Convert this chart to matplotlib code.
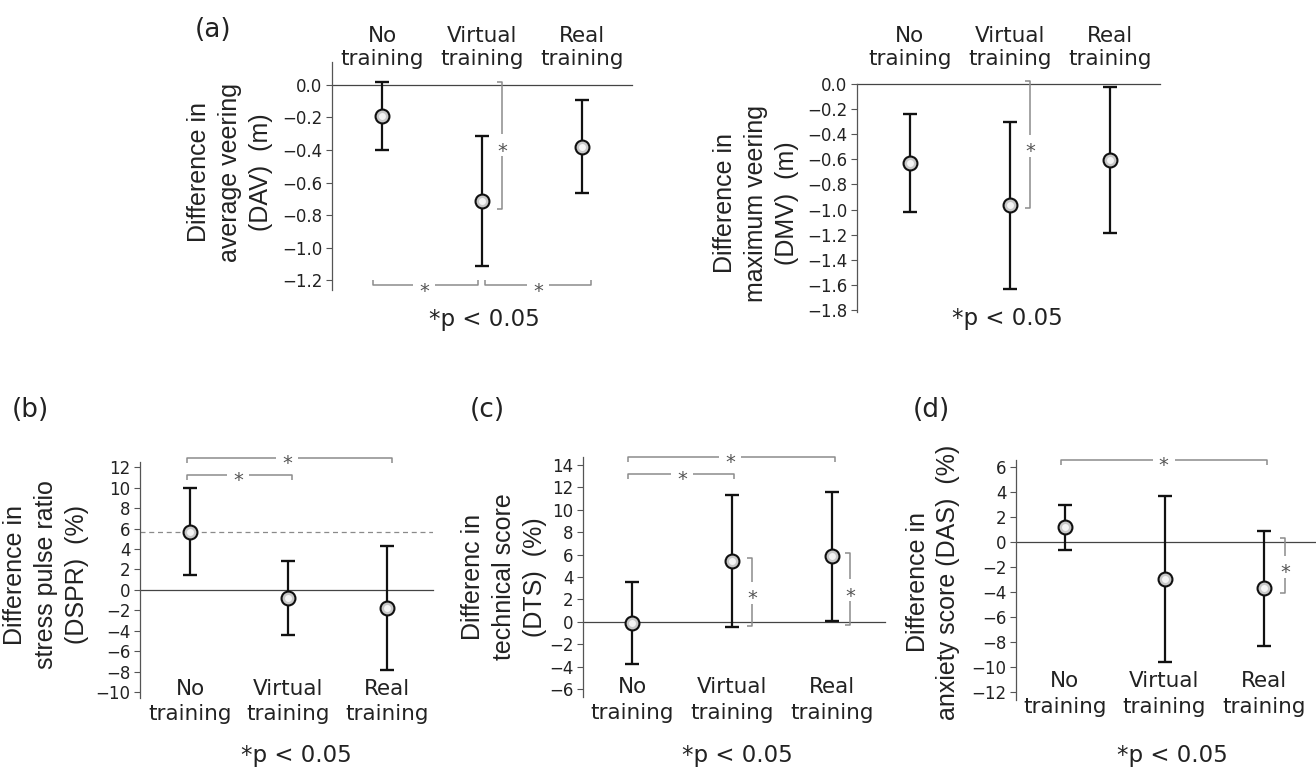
import matplotlib
matplotlib.use('Agg')
import matplotlib.pyplot as plt
import matplotlib.transforms as mtransforms
from matplotlib.ticker import FuncFormatter
import numpy as np

groups = ['No training', 'Virtual training', 'Real training']

# (a) veering
dav_mean = [-0.19, -0.715, -0.38]
dav_err = [0.21, 0.40, 0.285]
dmv_mean = [-0.625, -0.965, -0.605]
dmv_err = [0.39, 0.665, 0.585]
# (b) stress pulse ratio
dspr_mean = [5.7, -0.8, -1.8]
dspr_err = [4.25, 3.6, 6.05]
# (c) technical score
dts_mean = [-0.1, 5.45, 5.85]
dts_err = [3.67, 5.87, 5.72]
# (d) anxiety score
das_mean = [1.2, -2.95, -3.7]
das_err = [1.8, 6.63, 4.6]

# significance brackets: horizontal (x1, x2, y, x_star), vertical (x, y1, y2, y_star)
dav_sig_h = [(-0.09, 0.96, -1.23, 0.42), (1.03, 2.09, -1.23, 1.56)]
dav_sig_v = [(1.2, 0.02, -0.76, -0.37)]
dmv_sig_v = [(1.2, 0.02, -0.99, -0.49)]
dspr_sig_h = [(-0.03, 2.05, 12.9, 0.99), (-0.03, 1.04, 11.25, 0.49)]
dts_sig_h = [(-0.04, 2.03, 14.7, 0.98), (-0.04, 1.02, 13.2, 0.5)]
dts_sig_v = [(1.2, 5.7, -0.4, 2.6), (2.18, 6.1, -0.3, 2.8)]
das_sig_h = [(-0.04, 2.03, 6.56, 0.99)]
das_sig_v = [(2.21, 0.3, -4.1, -2.0)]

W, H = 1316, 767
fig = plt.figure(figsize=(W / 100, H / 100), dpi=100)
TXT = '#222222'


def add_ax(l, t, r, b):
    return fig.add_axes([l / W, 1 - b / H, (r - l) / W, (b - t) / H])


def fmt1(v, p):
    if abs(v) < 1e-9:
        return '0.0'
    return f'{v:.1f}'.replace('-', '\u2212')


def fmt0(v, p):
    if abs(v) < 1e-9:
        return '0'
    return f'{v:.0f}'.replace('-', '\u2212')


def style(ax, xlim, ylim, yticks, fmt):
    ax.set_xlim(xlim)
    ax.set_ylim(ylim)
    for s in ['top', 'right', 'bottom']:
        ax.spines[s].set_visible(False)
    ax.spines['left'].set_color('#555555')
    ax.spines['left'].set_linewidth(0.9)
    ax.set_xticks([])
    ax.set_yticks(yticks)
    ax.yaxis.set_major_formatter(FuncFormatter(fmt))
    ax.tick_params(axis='y', length=4, width=0.8, color='#555555',
                   labelsize=12, pad=3, labelcolor=TXT)
    ax.patch.set_visible(False)


def draw_points(ax, means, errs):
    x = np.arange(len(means))
    ax.axhline(0, color='#444444', lw=0.9, zorder=1, clip_on=False)
    ax.errorbar(x, means, yerr=errs, fmt='none', ecolor='#111111',
                elinewidth=1.6, capsize=4.7, capthick=1.7, zorder=3)
    ax.plot(x, means, 'o', ms=10, mfc='#c9c9c9', mec='#111111', mew=1.5, zorder=4)
    ax.plot(x, means, 'o', ms=5, mfc='#f5f5f5', mec='none', zorder=5)


def cat_labels(ax, y1, y2):
    tr = mtransforms.blended_transform_factory(ax.transData, fig.transFigure)
    for i, g in enumerate(groups):
        w1, w2 = g.split(' ')
        ax.text(i, 1 - y1 / H, w1, transform=tr, ha='center', va='baseline',
                fontsize=15.5, color=TXT, clip_on=False)
        ax.text(i, 1 - y2 / H, w2, transform=tr, ha='center', va='baseline',
                fontsize=15.5, color=TXT, clip_on=False)


def ppu(ax):
    p0 = ax.transData.transform((0, 0))
    p1 = ax.transData.transform((1, 1))
    return p1[0] - p0[0], p1[1] - p0[1]


def star(ax, x, y):
    ax.annotate('*', (x, y), xytext=(0, -0.59 * 14), textcoords='offset points',
                ha='center', va='baseline', fontsize=14, color='#555555',
                annotation_clip=False)


BR = dict(color='#8c8c8c', lw=1.1, clip_on=False, solid_capstyle='butt', zorder=2)


def hbracket(ax, x1, x2, y, xs, up=False):
    sx, sy = ppu(ax)
    t = 5 / sy * (1 if up else -1)
    g = 11 / sx
    ax.plot([x1, x1, xs - g], [y + t, y, y], **BR)
    ax.plot([xs + g, x2, x2], [y, y, y + t], **BR)
    star(ax, xs, y)


def vbracket(ax, x, y1, y2, ys):
    sx, sy = ppu(ax)
    t = 5 / sx
    g = 11 / sy
    ax.plot([x - t, x, x], [y1, y1, ys + g], **BR)
    ax.plot([x, x, x - t], [ys - g, y2, y2], **BR)
    star(ax, x, ys)


def ylab(x, y, s):
    fig.text(x / W, 1 - y / H, s, rotation=90, ha='center', va='center',
             multialignment='center', fontsize=18, family='Liberation Sans',
             linespacing=1.35, color=TXT)


def ptext(x, y):
    fig.text(x / W, 1 - y / H, '*p < 0.05', ha='center', va='baseline',
             fontsize=16.5, color=TXT)


def panel_tag(x, y, s):
    fig.text(x / W, 1 - y / H, s, ha='center', va='center', fontsize=19, color=TXT)


# (a) left: average veering
ax = add_ax(332, 62, 632, 290)
style(ax, (-0.5, 2.5), (-1.26, 0.14), np.linspace(0, -1.2, 7), fmt1)
draw_points(ax, dav_mean, dav_err)
for b in dav_sig_h:
    hbracket(ax, *b, up=True)
for b in dav_sig_v:
    vbracket(ax, *b)
cat_labels(ax, 42, 65)
ylab(230, 172, 'Difference in\naverage veering\n(DAV)  (m)')
ptext(484, 326)
panel_tag(213, 30, '(a)')

# (a) right: maximum veering
ax = add_ax(857, 84, 1160, 312)
style(ax, (-0.53, 2.5), (-1.815, 0), np.linspace(0, -1.8, 10), fmt1)
draw_points(ax, dmv_mean, dmv_err)
for b in dmv_sig_v:
    vbracket(ax, *b)
cat_labels(ax, 42, 65)
ylab(756, 203, 'Difference in\nmaximum veering\n(DMV)  (m)')
ptext(1007, 325)

# (b) stress pulse ratio
ax = add_ax(140, 462, 433, 698)
style(ax, (-0.51, 2.47), (-10.56, 12.5), np.arange(12, -11, -2), fmt0)
ax.axhline(dspr_mean[0], color='#8a8a8a', lw=0.9, ls=(0, (4, 3)), zorder=1)
draw_points(ax, dspr_mean, dspr_err)
for b in dspr_sig_h:
    hbracket(ax, *b)
cat_labels(ax, 695, 720)
ylab(46, 575, 'Difference in\nstress pulse ratio\n(DSPR)  (%)')
ptext(296, 762)
panel_tag(30, 410, '(b)')

# (c) technical score
ax = add_ax(583, 457, 885, 697)
style(ax, (-0.49, 2.53), (-6.67, 14.67), np.arange(14, -7, -2), fmt0)
draw_points(ax, dts_mean, dts_err)
for b in dts_sig_h:
    hbracket(ax, *b)
for b in dts_sig_v:
    vbracket(ax, *b)
cat_labels(ax, 693, 719)
ylab(504, 577, 'Differenc in\ntechnical score\n(DTS)  (%)')
ptext(737, 762)
panel_tag(487, 410, '(c)')

# (d) anxiety score
ax = add_ax(1016, 460, 1316, 700)
style(ax, (-0.49, 2.52), (-12.64, 6.56), np.arange(6, -13, -2), fmt0)
draw_points(ax, das_mean, das_err)
for b in das_sig_h:
    hbracket(ax, *b)
for b in das_sig_v:
    vbracket(ax, *b)
cat_labels(ax, 687, 713)
ylab(933, 582, 'Difference in\nanxiety score (DAS)  (%)')
ptext(1172, 762)
panel_tag(931, 410, '(d)')

fig.savefig('out.png', dpi=100)
